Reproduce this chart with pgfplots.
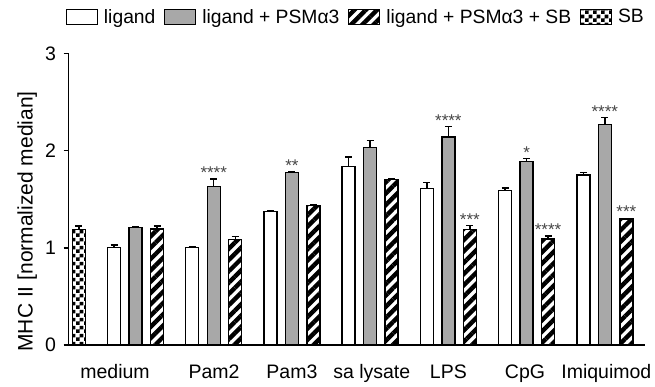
\documentclass[border=0pt]{standalone}
\usepackage{pgfplots}
\pgfplotsset{compat=1.18}
\usepackage{fontspec}
\setmainfont{Liberation Sans}
\usetikzlibrary{patterns,patterns.meta}
\definecolor{barGray}{RGB}{168,168,168}
\definecolor{starGray}{RGB}{70,70,70}
\pgfdeclarepatternformonly{mychecker}{\pgfpointorigin}{\pgfqpoint{7.6pt}{7.6pt}}{\pgfqpoint{7.6pt}{7.6pt}}{%
  \pgfpathrectangle{\pgfpointorigin}{\pgfqpoint{3.8pt}{3.8pt}}%
  \pgfpathrectangle{\pgfqpoint{3.8pt}{3.8pt}}{\pgfqpoint{3.8pt}{3.8pt}}%
  \pgfusepath{fill}}
\pgfplotsset{
  mybar/.style={ybar, bar width=13pt, bar shift=0pt, draw=black, line width=1.4pt,
    legend image code/.code={\draw[##1, line width=1.3pt] (0pt,-7.5pt) rectangle (31pt,7.5pt);},
    /pgfplots/error bars/y dir=plus, /pgfplots/error bars/y explicit,
    /pgfplots/error bars/error bar style={line width=1.4pt, black},
    /pgfplots/error bars/error mark options={rotate=90, mark size=3.5pt, line width=1.4pt, black}},
}
\begin{document}
\begin{tikzpicture}
\begin{axis}[
  name=ax,
  scale only axis,
  width=576.5pt, height=291.7pt,
  xmin=-0.857, xmax=6.514,
  ymin=0, ymax=3,
  ytick={0,1,2,3},
  axis x line*=bottom, axis y line*=left,
  axis line style={line width=1.5pt},
  tick align=outside,
  major tick length=5pt,
  y tick style={line width=1.5pt, black},
  xtick={-0.262,1.003,2.0,3.02,4,4.98,6.02},
  xticklabels={medium,Pam2,Pam3,sa lysate,LPS,CpG,Imiquimod},
  x tick style={draw=none},
  /pgf/number format/assume math mode=true,
  yticklabel style={font=\fontsize{19.5}{22}\selectfont, xshift=-4pt},
  xticklabel style={font=\fontsize{19.5}{22}\selectfont, text height=14pt, text depth=4pt, anchor=north, yshift=-11pt},
  ylabel={MHC II [normalized median]},
  ylabel style={at={(axis description cs:-0.0715,0.4234)}, anchor=center, font=\fontsize{21}{24}\selectfont},
  legend columns=-1,
  legend cell align=left,
  legend style={at={(1,1)}, anchor=east, xshift=4pt, yshift=36.3pt, draw=none, fill=none,
    font=\fontsize{19.3}{22}\selectfont,
    /tikz/every even column/.append style={column sep=6.5pt},
    /tikz/every odd column/.append style={column sep=4pt}},
  clip=false,
]
% ligand
\addplot[mybar, fill=white] coordinates {
  (-0.275,1.005) +- (0,0.025)
  (0.725,1.005) +- (0,0.005)
  (1.725,1.375) +- (0,0.003)
  (2.725,1.835) +- (0,0.100)
  (3.725,1.608) +- (0,0.066)
  (4.725,1.588) +- (0,0.027)
  (5.725,1.749) +- (0,0.028)
};
% ligand + PSMa3
\addplot[mybar, fill=barGray] coordinates {
  (0,1.207) +- (0,0.010)
  (1,1.629) +- (0,0.080)
  (2,1.773) +- (0,0.008)
  (3,2.030) +- (0,0.075)
  (4,2.140) +- (0,0.110)
  (5,1.890) +- (0,0.030)
  (6,2.267) +- (0,0.075)
};
% ligand + PSMa3 + SB
\addplot[mybar, pattern={Lines[angle=45,distance=8pt,line width=4.4pt]}] coordinates {
  (0.275,1.193) +- (0,0.030)
  (1.275,1.087) +- (0,0.027)
  (2.275,1.437) +- (0,0.005)
  (3.275,1.704) +- (0,0.005)
  (4.275,1.190) +- (0,0.037)
  (5.275,1.090) +- (0,0.031)
  (6.275,1.296) +- (0,0.005)
};
% SB
\addplot[mybar, pattern=mychecker] coordinates {
  (-0.724,1.19) +- (0,0.035)
};
\legend{ligand, ligand + PSMα3, ligand + PSMα3 + SB, SB}
% significance stars
\addplot[forget plot, only marks, mark=none, nodes near coords, point meta=explicit symbolic,
  every node near coord/.append style={anchor=base, yshift=-9.5pt, text=starGray, font=\fontsize{17}{20}\selectfont, inner sep=0pt}]
  coordinates {
  (1,1.811) [****]
  (2,1.880) [**]
  (4,2.349) [****]
  (4.275,1.327) [***]
  (5,2.016) [*]
  (5.275,1.224) [****]
  (6,2.441) [****]
  (6.275,1.406) [***]
};
\end{axis}
\pgfresetboundingbox
\path[use as bounding box] ([xshift=-68.5pt,yshift=-42pt]ax.south west) rectangle ([xshift=10pt,yshift=53.3pt]ax.north east);
\end{tikzpicture}
\end{document}
